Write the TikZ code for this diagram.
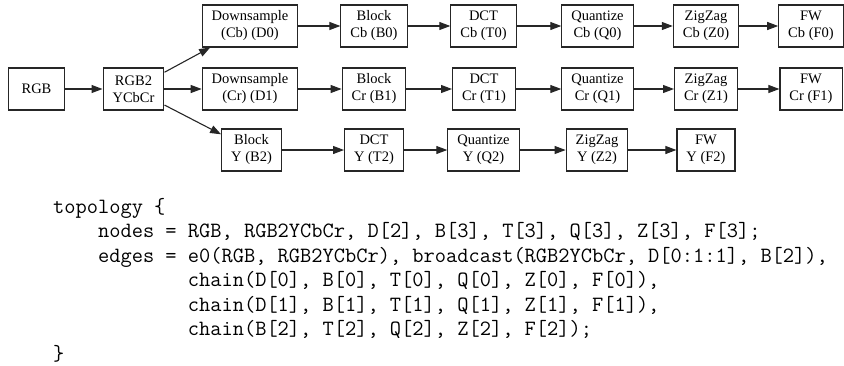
\documentclass[tikz,border=0pt]{standalone}
\usepackage{fontspec}
\setmainfont{Liberation Serif}
\usetikzlibrary{arrows.meta}
\tikzset{
  blk/.style={draw=black!85, line width=1.1pt, minimum height=42pt, minimum width=56pt,
    inner xsep=9.5pt, align=center, font=\fontsize{14.5}{17}\selectfont},
  flow/.style={draw=black!85, line width=1.1pt, -{Triangle[length=11pt,width=8pt]}},
}
\begin{document}
\begin{tikzpicture}[x=1pt,y=-1pt]
\useasboundingbox (0,0) rectangle (844,365);
% row 2
\node[blk] (rgb) at (36.5,89) {RGB};
\node[blk] (conv) at (133.5,89) {RGB2\\YCbCr};
\node[blk] (D1) at (250,89) {Downsample\\(Cr) (D1)};
\node[blk] (B1) at (374,89) {Block\\Cr (B1)};
\node[blk] (T1) at (484,89) {DCT\\Cr (T1)};
\node[blk] (Q1) at (597.5,89) {Quantize\\Cr (Q1)};
\node[blk] (Z1) at (706,89) {ZigZag\\Cr (Z1)};
\node[blk] (F1) at (811,89) {FW\\Cr (F1)};
% row 1
\node[blk] (D0) at (250,26) {Downsample\\(Cb) (D0)};
\node[blk] (B0) at (374,26) {Block\\Cb (B0)};
\node[blk] (T0) at (483.5,26) {DCT\\Cb (T0)};
\node[blk] (Q0) at (597.5,26) {Quantize\\Cb (Q0)};
\node[blk] (Z0) at (706,26) {ZigZag\\Cb (Z0)};
\node[blk] (F0) at (811,26) {FW\\Cb (F0)};
% row 3
\node[blk] (B2) at (251.5,150) {Block\\Y (B2)};
\node[blk] (T2) at (374,150) {DCT\\Y (T2)};
\node[blk] (Q2) at (483.5,150) {Quantize\\Y (Q2)};
\node[blk] (Z2) at (597,150) {ZigZag\\Y (Z2)};
\node[blk] (F2) at (706,150) {FW\\Y (F2)};
% edges
\draw[flow] (rgb) -- (conv);
\draw[flow] (conv) -- (D0);
\draw[flow] (conv) -- (D1);
\draw[flow] (conv) -- (B2);
\draw[flow] (D0) -- (B0);
\draw[flow] (B0) -- (T0);
\draw[flow] (T0) -- (Q0);
\draw[flow] (Q0) -- (Z0);
\draw[flow] (Z0) -- (F0);
\draw[flow] (D1) -- (B1);
\draw[flow] (B1) -- (T1);
\draw[flow] (T1) -- (Q1);
\draw[flow] (Q1) -- (Z1);
\draw[flow] (Z1) -- (F1);
\draw[flow] (B2) -- (T2);
\draw[flow] (T2) -- (Q2);
\draw[flow] (Q2) -- (Z2);
\draw[flow] (Z2) -- (F2);
% code
\node[anchor=base west, align=left, inner sep=0pt,
  font=\fontsize{21.8}{24.5}\selectfont\ttfamily\frenchspacing] (code) at (53,360)
{topology \{\\
\hphantom{xxxx}nodes = RGB, RGB2YCbCr, D[2], B[3], T[3], Q[3], Z[3], F[3];\\
\hphantom{xxxx}edges = e0(RGB, RGB2YCbCr), broadcast(RGB2YCbCr, D[0:1:1], B[2]),\\
\hphantom{xxxxxxxxxxxx}chain(D[0], B[0], T[0], Q[0], Z[0], F[0]),\\
\hphantom{xxxxxxxxxxxx}chain(D[1], B[1], T[1], Q[1], Z[1], F[1]),\\
\hphantom{xxxxxxxxxxxx}chain(B[2], T[2], Q[2], Z[2], F[2]);\\
\}};
\end{tikzpicture}
\end{document}
